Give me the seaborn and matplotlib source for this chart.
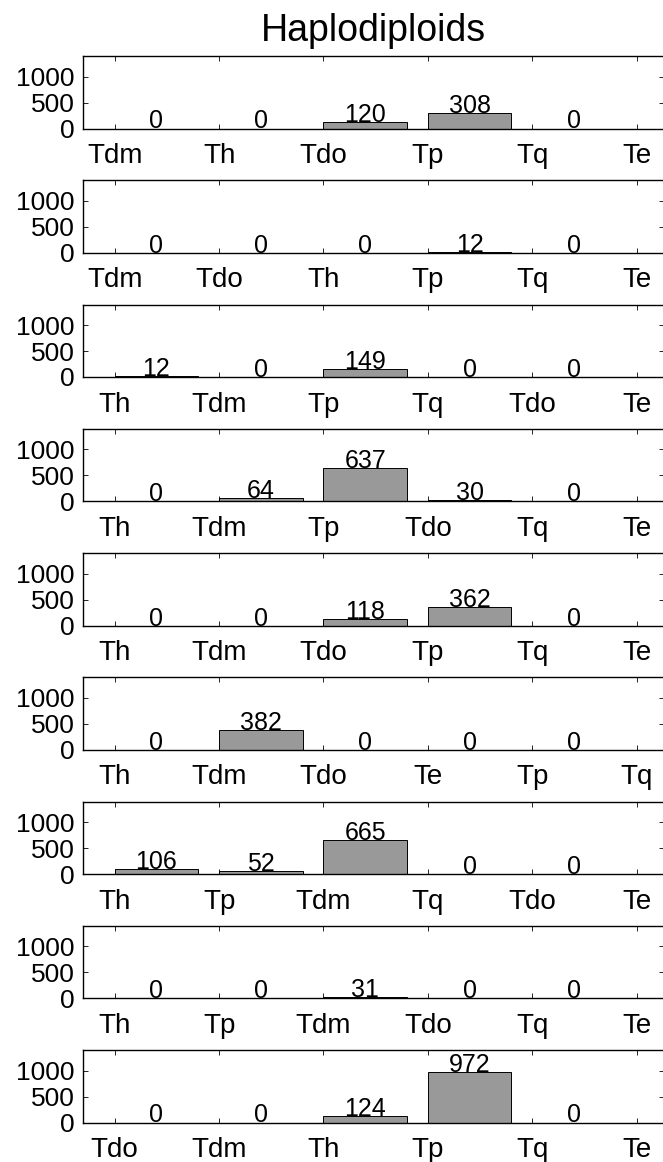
import numpy as np
import pandas as pd
import matplotlib
matplotlib.use("Agg")
import matplotlib.pyplot as plt
import seaborn as sns

title = "Haplodiploids"

labels_1 = ["Tdm", "Th", "Tdo", "Tp", "Tq", "Te"]
values_1 = [0, 0, 120, 308, 0]
labels_2 = ["Tdm", "Tdo", "Th", "Tp", "Tq", "Te"]
values_2 = [0, 0, 0, 12, 0]
labels_3 = ["Th", "Tdm", "Tp", "Tq", "Tdo", "Te"]
values_3 = [12, 0, 149, 0, 0]
labels_4 = ["Th", "Tdm", "Tp", "Tdo", "Tq", "Te"]
values_4 = [0, 64, 637, 30, 0]
labels_5 = ["Th", "Tdm", "Tdo", "Tp", "Tq", "Te"]
values_5 = [0, 0, 118, 362, 0]
labels_6 = ["Th", "Tdm", "Tdo", "Te", "Tp", "Tq"]
values_6 = [0, 382, 0, 0, 0]
labels_7 = ["Th", "Tp", "Tdm", "Tq", "Tdo", "Te"]
values_7 = [106, 52, 665, 0, 0]
labels_8 = ["Th", "Tp", "Tdm", "Tdo", "Tq", "Te"]
values_8 = [0, 0, 31, 0, 0]
labels_9 = ["Tdo", "Tdm", "Th", "Tp", "Tq", "Te"]
values_9 = [0, 0, 124, 972, 0]

yticks = [0, 500, 1000]

rows = [
    (labels_1, values_1), (labels_2, values_2), (labels_3, values_3),
    (labels_4, values_4), (labels_5, values_5), (labels_6, values_6),
    (labels_7, values_7), (labels_8, values_8), (labels_9, values_9),
]

sns.set_theme(style="white")
plt.rcParams["font.family"] = ["Liberation Sans", "DejaVu Sans"]

W, H = 663, 1162
fig = plt.figure(figsize=(W / 100, H / 100), dpi=100)

left_px = 82.7
right_px = 663.8
top0 = 56.0
step = 124.25
height_px = 72.5

bar_color = "#999999"

for i, (labs, vals) in enumerate(rows):
    top = top0 + step * i
    ax = fig.add_axes([left_px / W, 1 - (top + height_px) / H,
                       (right_px - left_px) / W, height_px / H])
    df = pd.DataFrame({"pos": np.arange(len(vals)), "count": vals})
    sns.barplot(data=df, x="pos", y="count", color=bar_color, saturation=1,
                edgecolor="black", linewidth=0.7, width=0.8, ax=ax)
    for p in ax.patches:
        v = p.get_height()
        ax.text(p.get_x() + p.get_width() / 2, v, f"{int(round(v))}",
                ha="center", va="baseline", fontsize=18, color="black")
    ax.set_xticks(np.arange(len(labs)) - 0.4)
    ax.set_xticklabels(labs)
    ax.set_xlim(-0.7065, -0.7065 + (right_px - left_px) / 104.4)
    ax.set_ylim(0, 1400)
    ax.set_yticks(yticks)
    ax.set_yticklabels([str(t) for t in yticks])
    ax.set_xlabel("")
    ax.set_ylabel("")
    ax.tick_params(axis="both", direction="in", length=3.5, width=0.6,
                   colors="black", top=True, right=True,
                   bottom=True, left=True)
    ax.tick_params(axis="x", pad=10.5, labelsize=20)
    ax.tick_params(axis="y", pad=6, labelsize=19)
    for s in ax.spines.values():
        s.set_visible(True)
        s.set_color("black")
        s.set_linewidth(1.0)
    ax.grid(False)
    if i == 0:
        ax.set_title(title, fontsize=27, pad=11, color="black")

fig.savefig("out.png", dpi=100)
